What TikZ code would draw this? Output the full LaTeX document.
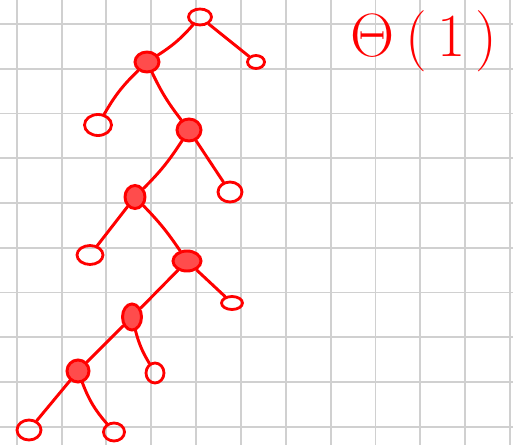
\documentclass[tikz,border=0pt]{standalone}
\usepackage{amsmath}
\usepackage{xcolor}
\usepackage{tikz}
\usetikzlibrary{shapes.geometric, positioning}
\definecolor{InkRed}{HTML}{FF0000}
\definecolor{GridGray}{HTML}{D0D0D0}

\tikzset{
  gridline/.style={GridGray, line width=2.8pt},
  leaf/.style={ellipse, draw=InkRed, line width=4pt, inner sep=0pt},
  inner/.style={ellipse, draw=InkRed, fill=InkRed!70, line width=4.2pt, inner sep=0pt},
  branch/.style={InkRed, line width=4.2pt, line cap=round}
}

\begin{document}
\begin{tikzpicture}[x=0.05cm, y=-0.05cm]
\useasboundingbox (0,0) rectangle (513,445);

% --- SQUARED PAPER ---
\fill[white] (0,0) rectangle (513,445);
\foreach \gx in {0,...,11} {
  \draw[gridline] ({16.7+44.85*\gx},0) -- ({16.7+44.85*\gx},445);
}
\foreach \gy in {0,...,9} {
  \draw[gridline] (0,{24+44.75*\gy}) -- (513,{24+44.75*\gy});
}

% --- INNER NODES (spine) ---
\node[leaf, minimum width=1.15cm, minimum height=0.8cm] (root) at (200,17) {};
\node[inner, minimum width=1.2cm, minimum height=1.0cm] (nA) at (147,62) {};
\node[inner, minimum width=1.2cm, minimum height=1.1cm] (nB) at (189,130) {};
\node[inner, minimum width=1.0cm, minimum height=1.15cm] (nC) at (135,197) {};
\node[inner, minimum width=1.4cm, minimum height=1.0cm] (nD) at (187,261) {};
\node[inner, minimum width=0.95cm, minimum height=1.3cm] (nE) at (132,317) {};
\node[inner, minimum width=1.1cm, minimum height=1.1cm] (nF) at (78,371) {};

% --- LEAVES ---
\node[leaf, minimum width=0.85cm, minimum height=0.65cm] (lRoot) at (256,62) {};
\node[leaf, minimum width=1.35cm, minimum height=1.05cm] (lA) at (98,125) {};
\node[leaf, minimum width=1.2cm, minimum height=1.0cm] (lB) at (230,192) {};
\node[leaf, minimum width=1.3cm, minimum height=0.95cm] (lC) at (90,255) {};
\node[leaf, minimum width=1.05cm, minimum height=0.65cm] (lD) at (232,303) {};
\node[leaf, minimum width=0.9cm, minimum height=1.0cm] (lE) at (155,373) {};
\node[leaf, minimum width=1.2cm, minimum height=1.0cm] (lF) at (29,430) {};
\node[leaf, minimum width=1.05cm, minimum height=0.9cm] (rF) at (114,432) {};

% --- BRANCHES ---
\draw[branch] (root) to[bend left=8] (nA);
\draw[branch] (root) -- (lRoot);
\draw[branch] (nA) to[bend right=8] (lA);
\draw[branch] (nA) to[bend right=6] (nB);
\draw[branch] (nB) to[bend left=6] (nC);
\draw[branch] (nB) -- (lB);
\draw[branch] (nC) -- (lC);
\draw[branch] (nC) to[bend left=5] (nD);
\draw[branch] (nD) -- (nE);
\draw[branch] (nD) -- (lD);
\draw[branch] (nE) to[bend right=8] (lE);
\draw[branch] (nE) -- (nF);
\draw[branch] (nF) -- (lF);
\draw[branch] (nF) to[bend right=10] (rF);

% --- BOUND ---
\node[InkRed, font=\Huge, scale=3.5, transform shape] (bound) at (424,41) {$\Theta\,(\,1\,)$};

\end{tikzpicture}
\end{document}
